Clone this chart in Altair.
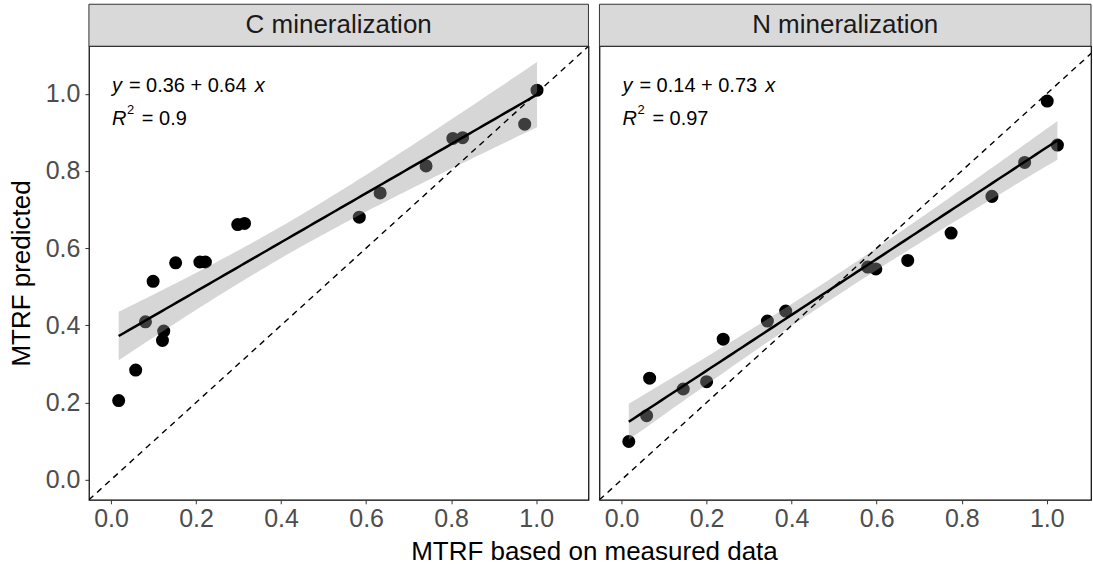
import altair as alt
import pandas as pd
import numpy as np

# ---------------- data ----------------
panels = ["C mineralization", "N mineralization"]

c_x = [0.018, 0.058, 0.081, 0.099, 0.121, 0.124, 0.152, 0.209, 0.222,
       0.298, 0.314, 0.584, 0.633, 0.741, 0.804, 0.827, 0.973, 1.002]
c_y = [0.205, 0.284, 0.409, 0.514, 0.361, 0.385, 0.562, 0.564, 0.564,
       0.661, 0.664, 0.680, 0.743, 0.813, 0.884, 0.886, 0.921, 1.009]

n_x = [0.017, 0.059, 0.066, 0.145, 0.200, 0.239, 0.343, 0.386,
       0.579, 0.598, 0.673, 0.775, 0.871, 0.948, 1.001, 1.025]
n_y = [0.099, 0.166, 0.263, 0.235, 0.254, 0.364, 0.411, 0.437,
       0.551, 0.546, 0.568, 0.639, 0.734, 0.822, 0.981, 0.867]

eq_intercepts = ["0.36", "0.14"]
eq_slopes = ["0.64", "0.73"]
r2_values = ["0.9", "0.97"]

x_ticks = [0.0, 0.2, 0.4, 0.6, 0.8, 1.0]
y_ticks = [0.0, 0.2, 0.4, 0.6, 0.8, 1.0]
y_domain = [-0.052, 1.123]
x_domains = [[-0.052, 1.123], [-0.052, 1.104]]
panel_widths = [500, 492]
panel_height = 454

x_title = "MTRF based on measured data"
y_title = "MTRF predicted"

# t quantiles (0.975) for the confidence band, keyed by degrees of freedom
T975 = {14: 2.145, 16: 2.120}

FONT = "Liberation Sans"


def band(x, y, n_grid=80):
    x = np.asarray(x, dtype=float)
    y = np.asarray(y, dtype=float)
    n = len(x)
    b, a = np.polyfit(x, y, 1)
    resid = y - (a + b * x)
    s = np.sqrt((resid ** 2).sum() / (n - 2))
    sxx = ((x - x.mean()) ** 2).sum()
    g = np.linspace(x.min(), x.max(), n_grid)
    se = s * np.sqrt(1.0 / n + (g - x.mean()) ** 2 / sxx)
    fit = a + b * g
    t = T975[n - 2]
    return pd.DataFrame({"x": g, "lo": fit - t * se, "hi": fit + t * se, "fit": fit})


def txt(s, px, py, size=20, style="normal", align="left", baseline="alphabetic",
        color="black"):
    return alt.Chart(pd.DataFrame({"t": [s]})).mark_text(
        font=FONT, fontSize=size, fontStyle=style, align=align,
        baseline=baseline, color=color
    ).encode(text="t:N", x=alt.value(px), y=alt.value(py))


def panel(i, xs_data, ys_data, show_y):
    width = panel_widths[i]
    xscale = alt.Scale(domain=x_domains[i], nice=False, zero=False)
    yscale = alt.Scale(domain=y_domain, nice=False, zero=False)
    xaxis = alt.Axis(values=x_ticks, format=".1f", title=None, grid=False,
                     domain=False, tickSize=4, tickColor="#333333",
                     labelFontSize=25, labelColor="#4D4D4D", labelFont=FONT,
                     labelPadding=3)
    if show_y:
        yaxis = alt.Axis(values=y_ticks, format=".1f", title=y_title,
                         grid=False, domain=False, tickSize=4,
                         tickColor="#333333", labelFontSize=25,
                         labelColor="#4D4D4D", labelFont=FONT, labelPadding=5,
                         titleFontSize=26, titleFont=FONT,
                         titleFontWeight="normal", titleColor="black",
                         titlePadding=11)
    else:
        yaxis = None

    X = lambda f: alt.X(f, scale=xscale, axis=xaxis)
    Y = lambda f: alt.Y(f, scale=yscale, axis=yaxis)

    pts = pd.DataFrame({"x": xs_data, "y": ys_data})
    bd = band(xs_data, ys_data)
    diag_df = pd.DataFrame({"x": [y_domain[0], y_domain[1]],
                            "y": [y_domain[0], y_domain[1]]})

    points = alt.Chart(pts).mark_circle(size=170, color="black", opacity=1).encode(
        x=X("x:Q"), y=Y("y:Q"))
    ribbon = alt.Chart(bd).mark_area(color="#999999", opacity=0.4).encode(
        x=X("x:Q"), y=Y("lo:Q"), y2="hi:Q")
    fitline = alt.Chart(bd).mark_line(color="black", strokeWidth=2.5).encode(
        x=X("x:Q"), y=Y("fit:Q"))
    diag = alt.Chart(diag_df).mark_line(color="black", strokeWidth=1.4,
                                        strokeDash=[6, 5], clip=True).encode(
        x=X("x:Q"), y=Y("y:Q"))

    strip = alt.Chart(pd.DataFrame({"t": [panels[i]]})).mark_rect(
        fill="#D9D9D9", stroke="#333333", strokeWidth=1
    ).encode(x=alt.value(0), x2=alt.value(width), y=alt.value(-42), y2=alt.value(0))
    strip_label = txt(panels[i], width / 2, -21, size=26, align="center",
                      baseline="middle", color="#1A1A1A")

    eq = [
        txt("y", 23, 46, style="italic"),
        txt("= " + eq_intercepts[i] + " + " + eq_slopes[i], 40, 46),
        txt("x", 166, 46, style="italic"),
        txt("R", 23, 79, style="italic"),
        txt("2", 38, 68, size=13),
        txt("= " + r2_values[i], 53, 79),
    ]

    layers = [points, ribbon, fitline, diag, strip, strip_label] + eq
    if show_y:
        layers.append(txt(x_title, 506, 514, size=26, align="center"))

    return alt.layer(*layers).properties(width=width, height=panel_height)


left = panel(0, c_x, c_y, True)
right = panel(1, n_x, n_y, False)

chart = alt.hconcat(left, right, spacing=11, bounds="flush").properties(
    padding={"left": 7, "top": 2, "right": 0, "bottom": 0},
    background="white",
).configure_view(stroke="black", strokeWidth=1.2)

chart.save("out.html", embed_options={"renderer": "svg", "actions": False})
